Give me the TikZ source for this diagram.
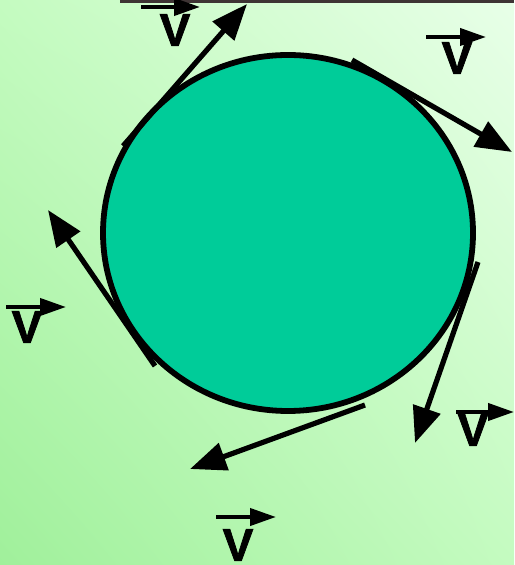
\documentclass[tikz,border=0pt]{standalone}
\usepackage{fontspec}
\setsansfont{Liberation Sans}
\newfontfamily\vfont[FakeBold=1.6]{Liberation Sans Bold}
\usetikzlibrary{arrows.meta,shadings}
\definecolor{bglow}{RGB}{160,240,155}
\definecolor{bgmid}{RGB}{196,251,192}
\definecolor{bghigh}{RGB}{232,255,232}
\definecolor{diskfill}{RGB}{0,204,153}
\definecolor{barcol}{RGB}{62,52,52}
\tikzset{
  velarrow/.style={line width=2.6pt,-{Triangle[length=18pt,width=14pt]}},
  vecbar/.style={line width=2pt,-{Triangle[length=13pt,width=8.5pt]}},
  vlabel/.style={inner sep=0pt,font=\vfont\fontsize{23}{23}\selectfont}
}
\begin{document}
\begin{tikzpicture}[x=0.5pt,y=-0.5pt]
% background
\shade[upper left=bgmid,upper right=bghigh,lower left=bglow,lower right=bgmid]
  (0,0) rectangle (514,565);
\useasboundingbox (0,0) rectangle (514,565);
\fill[barcol] (120,0) rectangle (514,3.5);

% rotating disk
\draw[line width=2.9pt,fill=diskfill] (288,233) ellipse [x radius=185,y radius=178];

% tangential velocities
\coordinate (s1) at (123,146);  \coordinate (t1) at (247,4);
\coordinate (s2) at (352,60);   \coordinate (t2) at (512,152);
\coordinate (s3) at (155,366);  \coordinate (t3) at (48,210);
\coordinate (s4) at (478,262);  \coordinate (t4) at (415,443);
\coordinate (s5) at (365,405);  \coordinate (t5) at (190,469);
\foreach \i in {1,...,5}
  \draw[velarrow] (s\i) -- (t\i);

% labels
\foreach \n/\vx/\vy/\ax/\bx/\ay in {a/175/30/141/200/7, b/457/58/426/486/37,
    c/27/327/6/66/307, d/473/430/456/514/412, e/238/545/216/276/517}
{
  \node[vlabel] (v\n) at (\vx,\vy) {V};
  \draw[vecbar] (\ax,\ay) -- (\bx,\ay);
}
\end{tikzpicture}
\end{document}
